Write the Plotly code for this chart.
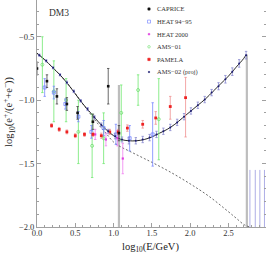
import plotly.graph_objects as go

# ---------------- data ----------------
# model curves (log10 E, log10 fraction)
curve_x = [0.0, 0.1, 0.2, 0.3, 0.4, 0.5, 0.6, 0.7, 0.8, 0.9, 1.0, 1.1, 1.2, 1.3, 1.4, 1.5,
           1.6, 1.7, 1.8, 1.9, 2.0, 2.1, 2.2, 2.3, 2.4, 2.5, 2.6, 2.7, 2.73]
curve_total = [-0.63, -0.68, -0.74, -0.80, -0.87, -0.95, -1.03, -1.10, -1.17, -1.23, -1.28,
               -1.31, -1.32, -1.32, -1.31, -1.29, -1.26, -1.23, -1.19, -1.14, -1.09, -1.04,
               -0.99, -0.93, -0.87, -0.81, -0.74, -0.67, -0.64]
bkg_x = [0.0, 0.2, 0.4, 0.6, 0.8, 0.9, 1.0, 1.1, 1.2, 1.3, 1.4, 1.5, 1.75, 2.0, 2.25, 2.5,
         2.6, 2.7, 2.78]
bkg_y = [-0.63, -0.74, -0.87, -1.03, -1.19, -1.26, -1.33, -1.37, -1.40, -1.43, -1.46, -1.49,
         -1.57, -1.66, -1.76, -1.88, -1.93, -1.98, -2.0]

caprice_x = [0.0, 0.13, 0.26, 0.39, 0.53, 0.73, 0.93, 1.07]
caprice_y = [-0.75, -0.85, -0.97, -1.03, -1.10, -1.17, -0.89, -1.26]
caprice_e = [0.05, 0.05, 0.06, 0.05, 0.05, 0.06, 0.14, 0.06]

heat9495_x = [0.10, 0.22, 0.37, 0.54, 0.71, 0.87, 1.03, 1.21, 1.51]
heat9495_y = [-0.90, -0.94, -1.03, -1.13, -1.25, -1.22, -1.27, -1.30, -1.27]
heat9495_e = [0.07, 0.05, 0.04, 0.04, 0.05, 0.06, 0.08, 0.10, 0.25]

heat2000_x = [0.76, 0.90, 1.05, 1.12]
heat2000_y = [-1.27, -1.31, -1.30, -1.46]
heat2000_e = [0.04, 0.05, 0.06, 0.12]

ams01_x = [0.07, 0.22, 0.38, 0.54, 0.72, 0.87, 1.10, 1.32, 1.59]
ams01_y = [-0.72, -0.93, -1.00, -1.25, -1.36, -1.30, -1.10, -0.92, -1.15]
ams01_e = [0.22, 0.24, 0.17, 0.25, 0.25, 0.20, 0.22, 0.12, 0.32]

pamela_x = [0.19, 0.29, 0.39, 0.50, 0.62, 0.73, 0.84, 0.95, 1.06, 1.18, 1.38, 1.55, 1.74, 1.94]
pamela_y = [-1.20, -1.23, -1.25, -1.28, -1.27, -1.27, -1.28, -1.25, -1.25, -1.22, -1.19,
            -1.14, -1.05, -0.98]
pamela_ep = [0.015, 0.015, 0.015, 0.015, 0.015, 0.015, 0.02, 0.02, 0.02, 0.025, 0.03, 0.05,
             0.08, 0.16]
pamela_em = [0.015, 0.015, 0.015, 0.015, 0.015, 0.015, 0.02, 0.02, 0.02, 0.025, 0.03, 0.05,
             0.10, 0.31]

ams02_x = [0.03, 0.12, 0.21, 0.30, 0.39, 0.48, 0.57, 0.66, 0.75, 0.84, 0.93, 1.02, 1.11, 1.20,
           1.29, 1.38, 1.47, 1.56, 1.65, 1.74, 1.83, 1.92, 2.01, 2.10, 2.19, 2.28, 2.37, 2.46,
           2.55, 2.64, 2.73]
ams02_y = [-0.645, -0.69, -0.745, -0.80, -0.86, -0.93, -1.005, -1.07, -1.135, -1.195, -1.245,
           -1.285, -1.31, -1.32, -1.32, -1.31, -1.295, -1.27, -1.245, -1.215, -1.175, -1.13,
           -1.085, -1.04, -0.995, -0.94, -0.89, -0.835, -0.775, -0.71, -0.645]
ams02_e = [0.008, 0.008, 0.008, 0.008, 0.01, 0.01, 0.01, 0.012, 0.012, 0.015, 0.015, 0.02,
           0.02, 0.025, 0.025, 0.025, 0.025, 0.025, 0.025, 0.025, 0.025, 0.025, 0.025, 0.025,
           0.025, 0.025, 0.028, 0.03, 0.03, 0.03, 0.03]

# AMS-02 projected bins falling below the plotted range
ams02_low_x = [2.78, 2.85, 2.91, 2.97]
ams02_low_y = [-2.3, -2.3, -2.3, -2.3]
ams02_low_ep = [0.75, 0.75, 0.75, 0.75]

# broad grey uncertainty bars
grey_x = [1.07, 2.74]
grey_y = [-1.26, -0.66]
grey_ep = [0.38, 0.02]
grey_em = [0.9, 1.5]

legend_names = ["CAPRICE", "HEAT 94\u221295", "HEAT 2000", "AMS\u221201", "PAMELA", "AMS\u221202 (proj)"]

x_range = [0.0, 2.99]
y_range = [-2.0, -0.21]

SERIF = "Liberation Serif"

fig = go.Figure()

def err(arr, color, arrminus=None, thick=0.8, width=1.2):
    d = dict(type="data", array=arr, color=color, thickness=thick, width=width, visible=True)
    if arrminus is not None:
        d["symmetric"] = False
        d["arrayminus"] = arrminus
    return d

# grey bars
fig.add_trace(go.Scatter(x=grey_x, y=grey_y, mode="markers", showlegend=False,
                         marker=dict(size=1, color="rgba(0,0,0,0)"),
                         error_y=err(grey_ep, "#bdbdbd", grey_em, thick=2.2, width=0)))

# background (dashed) and total (solid)
fig.add_trace(go.Scatter(x=bkg_x, y=bkg_y, mode="lines", line=dict(color="#444", width=0.8, dash="2px,2px"),
                         line_shape="spline", showlegend=False))
fig.add_trace(go.Scatter(x=curve_x, y=curve_total, mode="lines", line=dict(color="#111", width=0.9),
                         line_shape="spline", showlegend=False))

fig.add_trace(go.Scatter(x=ams01_x, y=ams01_y, mode="markers", showlegend=False,
                         marker=dict(symbol="circle-open", size=3, color="#66dd66", line=dict(width=0.7)),
                         error_y=err(ams01_e, "#70e870")))
fig.add_trace(go.Scatter(x=heat9495_x, y=heat9495_y, mode="markers", showlegend=False,
                         marker=dict(symbol="square-open", size=3, color="#6a7bff", line=dict(width=0.7)),
                         error_y=err(heat9495_e, "#7888ff")))
fig.add_trace(go.Scatter(x=heat2000_x, y=heat2000_y, mode="markers", showlegend=False,
                         marker=dict(symbol="square", size=2.2, color="#e040e0"),
                         error_y=err(heat2000_e, "#f080f0")))
fig.add_trace(go.Scatter(x=pamela_x, y=pamela_y, mode="markers", showlegend=False,
                         marker=dict(symbol="square", size=2.8, color="#ee2222"),
                         error_y=err(pamela_ep, "#f09090", pamela_em)))
fig.add_trace(go.Scatter(x=caprice_x, y=caprice_y, mode="markers", showlegend=False,
                         marker=dict(symbol="square", size=2.6, color="#111"),
                         error_y=err(caprice_e, "#444")))
fig.add_trace(go.Scatter(x=ams02_low_x, y=ams02_low_y, mode="markers", showlegend=False,
                         marker=dict(size=1, color="rgba(0,0,0,0)"),
                         error_y=err(ams02_low_ep, "#9a9ae0", [0, 0, 0, 0], width=0)))
fig.add_trace(go.Scatter(x=ams02_x, y=ams02_y, mode="markers", showlegend=False,
                         marker=dict(symbol="circle", size=2, color="#1a1a6e"),
                         error_y=err(ams02_e, "#8a8ad0")))

# manual compact legend (text + swatches in paper coords)
leg_style = [
    dict(kind="rect", fill="#111", line="#111", size=2.2),
    dict(kind="rect", fill="rgba(0,0,0,0)", line="#6a7bff", size=3),
    dict(kind="rect", fill="#e040e0", line="#e040e0", size=1.5),
    dict(kind="circle", fill="rgba(0,0,0,0)", line="#66dd66", size=2.5),
    dict(kind="rect", fill="#ee2222", line="#ee2222", size=2.4),
    dict(kind="circle", fill="#1a1a6e", line="#1a1a6e", size=1.5),
]
W, H = 266, 256
ml, mr, mt, mb = 37, 0, 0, 29
pw, ph = W - ml - mr, H - mt - mb
shapes = []
annotations = []
row0, drow = 9, 12.6
sx, tx = 149, 155
for i, (name, st) in enumerate(zip(legend_names, leg_style)):
    py = row0 + i * drow
    xp = (sx - ml) / pw
    yp = 1 - (py - mt) / ph
    s = st["size"] / 2
    shapes.append(dict(type="rect" if st["kind"] == "rect" else "circle", xref="paper", yref="paper",
                       xsizemode="pixel", ysizemode="pixel", xanchor=xp, yanchor=yp,
                       x0=-s, x1=s, y0=-s, y1=s, fillcolor=st["fill"],
                       line=dict(color=st["line"], width=0.6)))
    annotations.append(dict(text=name, xref="paper", yref="paper", x=(tx - ml) / pw, y=yp,
                            xanchor="left", yanchor="middle", showarrow=False,
                            font=dict(family=SERIF, size=6.5, color="#333")))

annotations.append(dict(text="DM3", xref="paper", yref="paper", x=(59 - ml) / pw, y=1 - 13 / ph,
                        xanchor="center", yanchor="middle", showarrow=False,
                        font=dict(family=SERIF, size=9.5, color="#333")))
# x-axis title
annotations.append(dict(text="log<sub>10</sub>(E/GeV)", xref="paper", yref="paper",
                        x=(150 - ml) / pw, y=-(247 - ph) / ph, xanchor="center", yanchor="middle",
                        showarrow=False, font=dict(family=SERIF, size=10.5, color="#222")))
# y-axis title
annotations.append(dict(text="log<sub>10</sub>(e<sup>+</sup>/(e<sup>+</sup>+e<sup>\u2212</sup>))",
                        xref="paper", yref="paper", x=-(ml - 9) / pw, y=1 - 112 / ph,
                        xanchor="center", yanchor="middle", textangle=-90, showarrow=False,
                        font=dict(family=SERIF, size=10.5, color="#222")))

axis_common = dict(showgrid=False, zeroline=False, showline=True, linecolor="#a0a0a0", linewidth=1,
                   ticks="inside", ticklen=4, tickcolor="#a0a0a0", tickwidth=1, automargin=False,
                   tickfont=dict(family=SERIF, size=8.5, color="#333"), tickformat=".1f",
                   minor=dict(ticks="inside", ticklen=2, tickcolor="#a0a0a0", dtick=0.1))

fig.update_layout(
    width=W, height=H, margin=dict(l=ml, r=mr, t=mt, b=mb),
    paper_bgcolor="white", plot_bgcolor="white", showlegend=False, hovermode=False,
    dragmode=False,
    xaxis=dict(range=x_range, dtick=0.5, tick0=0, ticklabelstandoff=-2, **axis_common),
    yaxis=dict(range=y_range, dtick=0.5, tick0=0, mirror="ticks", **axis_common),
    shapes=shapes, annotations=annotations,
)

fig.write_html("out.html", config={"displayModeBar": False, "staticPlot": True},
               post_script="document.body.style.margin='0';")
